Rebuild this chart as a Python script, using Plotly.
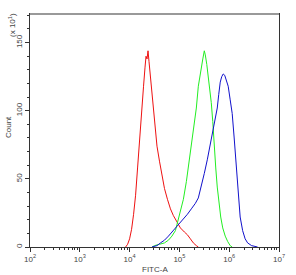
import plotly.graph_objects as go

# Data: log10(FITC-A) positions and counts (x10^1)
red_logx = [3.92,3.96,4.00,4.04,4.08,4.12,4.16,4.20,4.24,4.28,4.31,4.33,4.35,4.37,4.39,4.42,4.46,4.50,4.55,4.60,4.65,4.70,4.76,4.82,4.88,4.95,5.02,5.10,5.16,5.22,5.28,5.34,5.38]
red_cnt = [0,2,6,13,24,38,58,80,98,118,132,140,138,144,136,124,104,88,74,63,52,43,35,28,23,18,14,11,9,6,3,1,0]

green_logx = [4.45,4.50,4.60,4.70,4.78,4.85,4.92,4.98,5.04,5.08,5.14,5.20,5.26,5.30,5.34,5.38,5.41,5.44,5.47,5.50,5.52,5.55,5.58,5.61,5.64,5.67,5.70,5.73,5.76,5.79,5.83,5.87,5.92,5.97,6.02,6.06]
green_cnt = [0,1,2,3,5,8,12,20,28,35,48,64,80,92,102,118,126,131,138,144,141,134,126,116,106,92,72,58,44,32,22,14,8,4,1,0]

blue_logx = [4.45,4.55,4.62,4.70,4.78,4.88,4.96,5.04,5.10,5.16,5.24,5.32,5.38,5.44,5.50,5.56,5.62,5.67,5.72,5.76,5.79,5.82,5.85,5.88,5.91,5.94,5.98,6.02,6.06,6.10,6.14,6.18,6.22,6.27,6.32,6.37,6.45,6.57]
blue_cnt = [0,1,3,5,8,12,16,19,21,24,28,32,36,44,54,64,76,86,95,102,112,121,125,127,126,123,118,108,98,80,62,38,22,12,6,3,1,0]

x_tickvals = [1e2, 1e3, 1e4, 1e5, 1e6, 1e7]
x_ticktext = ["10<sup>2</sup>", "10<sup>3</sup>", "10<sup>4</sup>", "10<sup>5</sup>", "10<sup>6</sup>", "10<sup>7</sup>"]
y_tickvals = [0, 50, 100, 150]

fig = go.Figure()
for lx, cnt, col in [(red_logx, red_cnt, "#ee1111"), (green_logx, green_cnt, "#22ee22"), (blue_logx, blue_cnt, "#1111cc")]:
    fig.add_trace(go.Scatter(x=[10 ** v for v in lx], y=cnt, mode="lines",
                             line=dict(color=col, width=1), showlegend=False))

W, L, B, T = 249, 30, 247, 14
H = B - T

fig.update_layout(
    width=296, height=275,
    margin=dict(l=30, r=17, t=14, b=28),
    paper_bgcolor="white", plot_bgcolor="white",
    font=dict(family="Liberation Sans, Arial, sans-serif", size=8, color="#444"),
    xaxis=dict(type="log", range=[2, 7], tickvals=x_tickvals, ticktext=x_ticktext,
               showgrid=False, zeroline=False, showline=True, linecolor="#333", linewidth=1,
               mirror=True, ticks="outside", ticklen=4, tickcolor="#333",
               minor=dict(ticks="outside", ticklen=2, tickcolor="#333", dtick="D1"),
               tickfont=dict(size=8, color="#444")),
    yaxis=dict(range=[0, 171], tickvals=y_tickvals, tickangle=-90,
               showgrid=False, zeroline=False, showline=True, linecolor="#333", linewidth=1,
               mirror=True, ticks="outside", ticklen=4, tickcolor="#333",
               minor=dict(ticks="outside", ticklen=2, tickcolor="#333", dtick=10),
               tickfont=dict(size=8, color="#444")),
    shapes=[dict(type="line", xref="paper", yref="paper", x0=0, x1=1, y0=1, y1=1,
                 line=dict(color="#999", width=2))],
    annotations=[
        dict(text="(x 10<sup>1</sup>)", xref="paper", yref="paper",
             x=(12 - L) / W, y=(B - 25) / H, xanchor="center", yanchor="middle",
             textangle=-90, showarrow=False, font=dict(size=8, color="#444")),
        dict(text="Count", xref="paper", yref="paper",
             x=(8 - L) / W, y=(B - 127) / H, xanchor="center", yanchor="middle",
             textangle=-90, showarrow=False, font=dict(size=8, color="#444")),
        dict(text="FITC-A", xref="paper", yref="paper",
             x=(155 - L) / W, y=-(269 - B) / H, xanchor="center", yanchor="middle",
             showarrow=False, font=dict(size=8, color="#444")),
    ],
)

fig.write_html("out.html")
